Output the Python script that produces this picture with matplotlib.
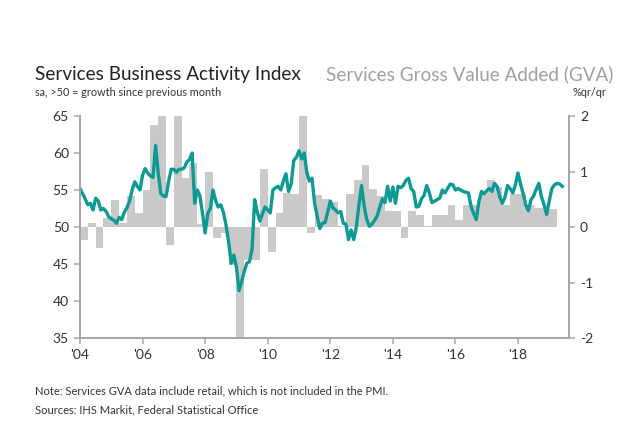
import numpy as np
import matplotlib
matplotlib.use('Agg')
import matplotlib.pyplot as plt

plt.rcParams['font.family'] = ['Lato', 'DejaVu Sans']
plt.rcParams['axes.unicode_minus'] = False

# Services PMI, monthly, Jan 2004 - Jun 2019
pmi_2004 = [55.2, 54.5, 53.8, 53.0, 53.2, 52.3, 53.9, 53.5, 52.3, 52.5, 52.1, 51.4]
pmi_2005 = [51.1, 50.9, 50.5, 51.3, 51.0, 52.0, 52.6, 53.5, 55.0, 56.1, 55.5, 55.0]
pmi_2006 = [57.0, 57.9, 57.3, 56.9, 56.7, 61.0, 57.3, 54.5, 54.2, 54.1, 56.2, 57.8]
pmi_2007 = [57.8, 57.4, 57.8, 57.8, 58.0, 58.8, 59.1, 60.0, 53.2, 55.0, 54.2, 51.8]
pmi_2008 = [49.2, 51.8, 52.5, 55.0, 53.6, 52.7, 53.0, 52.0, 50.3, 48.0, 45.1, 46.2]
pmi_2009 = [44.6, 41.4, 42.6, 44.0, 45.1, 45.3, 47.0, 53.7, 52.0, 50.8, 51.8, 52.7]
pmi_2010 = [52.3, 51.9, 55.0, 55.3, 55.5, 55.0, 56.2, 57.2, 54.8, 55.8, 59.0, 59.4]
pmi_2011 = [60.3, 59.2, 60.0, 57.4, 56.2, 56.6, 53.2, 51.4, 49.8, 50.5, 50.6, 52.0]
pmi_2012 = [53.5, 52.6, 52.3, 51.9, 52.1, 50.5, 50.4, 48.3, 49.6, 48.3, 50.0, 53.0]
pmi_2013 = [55.6, 52.8, 51.0, 50.1, 50.4, 50.9, 51.5, 52.7, 53.8, 53.3, 55.5, 53.5]
pmi_2014 = [55.4, 53.2, 55.5, 55.3, 55.6, 56.3, 56.6, 55.2, 54.8, 52.7, 52.8, 53.8]
pmi_2015 = [54.3, 55.6, 54.6, 53.3, 53.5, 53.7, 53.9, 55.0, 54.6, 55.2, 55.8, 55.7]
pmi_2016 = [55.0, 55.2, 55.0, 54.8, 54.7, 54.6, 52.8, 51.8, 51.0, 53.4, 54.8, 54.5]
pmi_2017 = [54.9, 55.2, 54.8, 55.9, 55.5, 54.1, 53.2, 54.0, 55.6, 55.2, 54.6, 55.7]
pmi_2018 = [57.3, 55.8, 54.5, 53.0, 52.2, 53.7, 54.2, 55.1, 55.9, 54.1, 53.0, 51.7]
pmi_2019 = [53.5, 55.2, 55.7, 55.9, 55.8, 55.5]

# Services GVA, %q/q, 2004Q1 - 2019Q1
gva = [-0.23, 0.08, -0.38, 0.17, 0.49, 0.08, 0.55, 0.26, 0.67, 1.84, 2.0, -0.32,
       2.0, 0.88, 1.15, 0.05, 1.0, -0.2, -0.1, -0.68, -2.0, -0.6, -0.6, 1.04,
       -0.45, 0.25, 0.62, 0.6, 2.0, -0.11, 0.58, 0.5, 0.45, 0.02, 0.6, 0.85,
       1.12, 0.68, 0.55, 0.28, 0.28, -0.2, 0.28, 0.22, 0.01, 0.22, 0.22, 0.4,
       0.13, 0.4, 0.4, 0.6, 0.85, 0.72, 0.4, 0.6, 0.6, 0.4, 0.35, 0.35, 0.32]

tick_years = [2004, 2006, 2008, 2010, 2012, 2014, 2016, 2018]
tick_labels = ["'04", "'06", "'08", "'10", "'12", "'14", "'16", "'18"]

pmi = (pmi_2004 + pmi_2005 + pmi_2006 + pmi_2007 + pmi_2008 + pmi_2009 + pmi_2010 + pmi_2011
       + pmi_2012 + pmi_2013 + pmi_2014 + pmi_2015 + pmi_2016 + pmi_2017 + pmi_2018 + pmi_2019)
x_m = 2004 + np.arange(len(pmi)) / 12
x_q = 2004 + np.arange(len(gva)) / 4

TEAL = '#0c9a94'; GREY = '#c9c9c9'; AX = '#a6a6a6'; TXT = '#333333'

fig = plt.figure(figsize=(6.4, 4.33), dpi=100)
ax = fig.add_axes([0.125, 0.2194, 0.764, 0.5127])   # GVA bars (right scale)
ax2 = ax.twinx()                                      # PMI line (left scale)

ax.bar(x_q, gva, width=0.25, align='edge', color=GREY, lw=0)
ax.set_ylim(-2, 2); ax.set_yticks([-2, -1, 0, 1, 2])
ax.yaxis.tick_right()
ax2.plot(x_m, pmi, color=TEAL, lw=2.4, solid_joinstyle='round')
ax2.set_ylim(35, 65); ax2.set_yticks(range(35, 66, 5))
ax2.yaxis.tick_left()

ax.set_xlim(2004, 2019.63)
ax.set_xticks(tick_years); ax.set_xticklabels(tick_labels)

for a in (ax, ax2):
    a.spines['top'].set_visible(False)
    for s in ('left', 'right', 'bottom'):
        a.spines[s].set_color(AX); a.spines[s].set_linewidth(1.3)
    a.tick_params(colors=AX, labelcolor=TXT, labelsize=10, length=4, width=1.1, pad=4)

fig.text(0.055, 0.815, 'Services Business Activity Index', fontsize=13.6, color='#222222', va='baseline')
fig.text(0.51, 0.815, 'Services Gross Value Added (GVA)', fontsize=13.6, color='#a0a0a0', va='baseline')
fig.text(0.055, 0.778, 'sa, >50 = growth since previous month', fontsize=7.8, color=TXT, va='baseline')
fig.text(0.948, 0.778, '%qr/qr', fontsize=7.8, color=TXT, va='baseline', ha='right')
fig.text(0.055, 0.088, 'Note: Services GVA data include retail, which is not included in the PMI.',
         fontsize=8, color=TXT, va='baseline')
fig.text(0.055, 0.045, 'Sources: IHS Markit, Federal Statistical Office', fontsize=8, color=TXT, va='baseline')

fig.savefig('out.png', dpi=100)
